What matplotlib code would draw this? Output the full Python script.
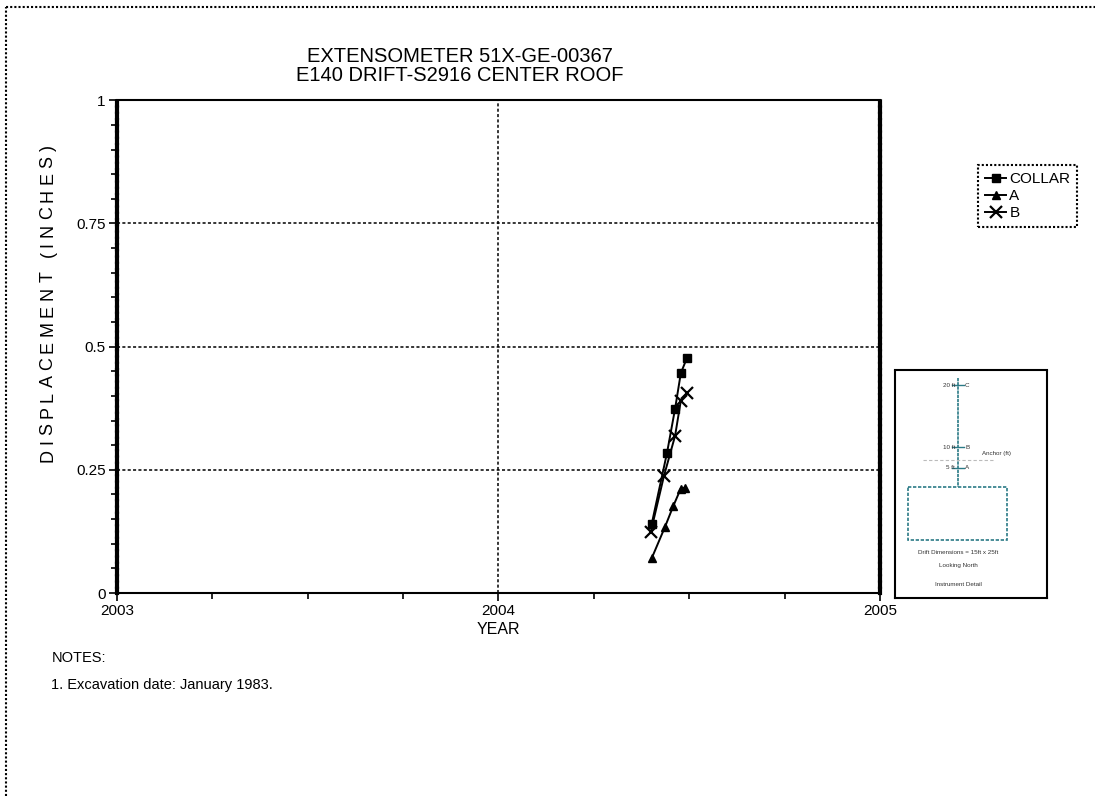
import numpy as np
import matplotlib.pyplot as plt
from matplotlib.patches import Rectangle
from matplotlib.lines import Line2D

plt.rcParams['font.family'] = ['Liberation Sans', 'DejaVu Sans']

# reading dates (decimal year) and displacement (inches)
dates = [2004.402, 2004.442, 2004.463, 2004.478, 2004.494]
collar = [0.141, 0.285, 0.374, 0.446, 0.477]
a_dates = [2004.402, 2004.437, 2004.458, 2004.478, 2004.490]
anchor_a = [0.071, 0.135, 0.176, 0.212, 0.214]
b_dates = [2004.399, 2004.434, 2004.463, 2004.478, 2004.494]
anchor_b = [0.123, 0.238, 0.319, 0.390, 0.406]

W, H = 1095, 796
fig = plt.figure(figsize=(W / 100, H / 100), dpi=100)
ax = fig.add_axes([0.1068, 0.255, 0.6968, 0.619])

ax.plot(dates, collar, color='black', lw=1.4, marker='s', ms=6, label='COLLAR')
ax.plot(a_dates, anchor_a, color='black', lw=1.4, marker='^', ms=6, label='A')
ax.plot(b_dates, anchor_b, color='black', lw=1.4, marker='x', ms=8, mew=1.6, label='B')

ax.set_xlim(2003, 2005)
ax.set_ylim(0, 1)
ax.set_xticks([2003, 2004, 2005])
ax.set_xticklabels(['2003', '2004', '2005'])
ax.set_xticks(np.arange(2003, 2005, 0.25), minor=True)
ax.set_yticks([0, 0.25, 0.5, 0.75, 1])
ax.set_yticklabels(['0', '0.25', '0.5', '0.75', '1'])
ax.set_yticks(np.arange(0, 1.0, 0.05), minor=True)
ax.tick_params(which='major', length=6, width=1.2, labelsize=11, pad=2, direction='out')
ax.tick_params(which='minor', length=4, width=1.2, direction='out')
ax.grid(True, which='major', color='black', linestyle=(0, (2, 1.5)), lw=1.1)

ax.spines['top'].set_linewidth(1.5)
ax.spines['bottom'].set_linewidth(1.5)
for s in ['left', 'right']:
    ax.spines[s].set_linewidth(3)
    ax.spines[s].set_linestyle((0, (1, 0.5)))

ax.set_xlabel('YEAR', fontsize=11.5, labelpad=3)

# y label: the original is drawn wide, so lay the letters out along its full length
renderer = fig.canvas.get_renderer()
ylab = 'DISPLACEMENT (INCHES)'
fs = 13
widths = []
for ch in ylab:
    if ch == ' ':
        widths.append(fs * 0.278 * 100 / 72)
    else:
        t = fig.text(0, 0, ch, fontsize=fs)
        widths.append(t.get_window_extent(renderer).width)
        t.remove()
span = 317.0
gap = (span - sum(widths)) / (len(ylab) - 1)
pos = 462.0
for ch, w in zip(ylab, widths):
    if ch != ' ':
        fig.text(48 / W, 1 - (pos - w / 2) / H, ch, fontsize=fs, rotation=90,
                 ha='center', va='center')
    pos -= w + gap

fig.text(0.42, 0.9165, 'EXTENSOMETER 51X-GE-00367\nE140 DRIFT-S2916 CENTER ROOF',
         ha='center', va='center', fontsize=14.5, linespacing=1.0)

leg = fig.legend(loc='upper left', bbox_to_anchor=(978 / W, 1 - 165 / H), fontsize=11,
                 handlelength=1.4, handletextpad=0.2, borderpad=0.45, labelspacing=0.2,
                 borderaxespad=0, fancybox=False, framealpha=1, edgecolor='black')
leg.get_frame().set_linestyle((0, (1, 1)))
leg.get_frame().set_linewidth(1.5)

fig.text(0.047, 0.173, 'NOTES:', fontsize=10.5, va='center')
fig.text(0.047, 0.140, '1. Excavation date: January 1983.', fontsize=10.5, va='center')

# instrument detail inset
ins = fig.add_axes([0.8174, 0.249, 0.1388, 0.286])
ins.set_xlim(0, 152)
ins.set_ylim(228, 0)
ins.set_xticks([])
ins.set_yticks([])
for s in ins.spines.values():
    s.set_linestyle((0, (1, 1)))
    s.set_linewidth(1.5)
teal = '#2b7a86'
ins.plot([63, 63], [8, 117], color=teal, lw=1.2, linestyle=(0, (2, 0.5)))
ins.add_patch(Rectangle((13, 117), 99, 53, fill=False, edgecolor=teal, lw=1.2,
                        linestyle=(0, (2, 1))))
ins.plot([28, 98], [90, 90], color='#bbbbbb', lw=0.8, linestyle=(0, (3, 2)))
for yy, lab in [(15, '20 ft - C'), (77, '10 ft - B'), (98, '5 ft - A')]:
    ins.plot([57, 69], [yy, yy], color=teal, lw=1)
    ins.text(60, yy, lab.split(' - ')[0], fontsize=4.5, ha='right', va='center', color='#333333')
    ins.text(70, yy, lab.split(' - ')[1], fontsize=4.5, ha='left', va='center', color='#333333')
ins.text(87, 83, 'Anchor (ft)', fontsize=4.5, ha='left', va='center', color='#333333')
ins.text(63, 183, 'Drift Dimensions = 15ft x 25ft', fontsize=4.5, ha='center', va='center', color='#333333')
ins.text(63, 196, 'Looking North', fontsize=4.5, ha='center', va='center', color='#333333')
ins.text(63, 215, 'Instrument Detail', fontsize=4.5, ha='center', va='center', color='#333333')

# outer dotted page border
fig.add_artist(Line2D([0.0055, 1.0], [0.991, 0.991], transform=fig.transFigure,
                      color='black', lw=1.5, linestyle=(0, (1, 1))))
fig.add_artist(Line2D([0.0055, 0.0055], [0.0, 0.991], transform=fig.transFigure,
                      color='black', lw=1.5, linestyle=(0, (1, 1))))

fig.savefig('out.png', dpi=100)
